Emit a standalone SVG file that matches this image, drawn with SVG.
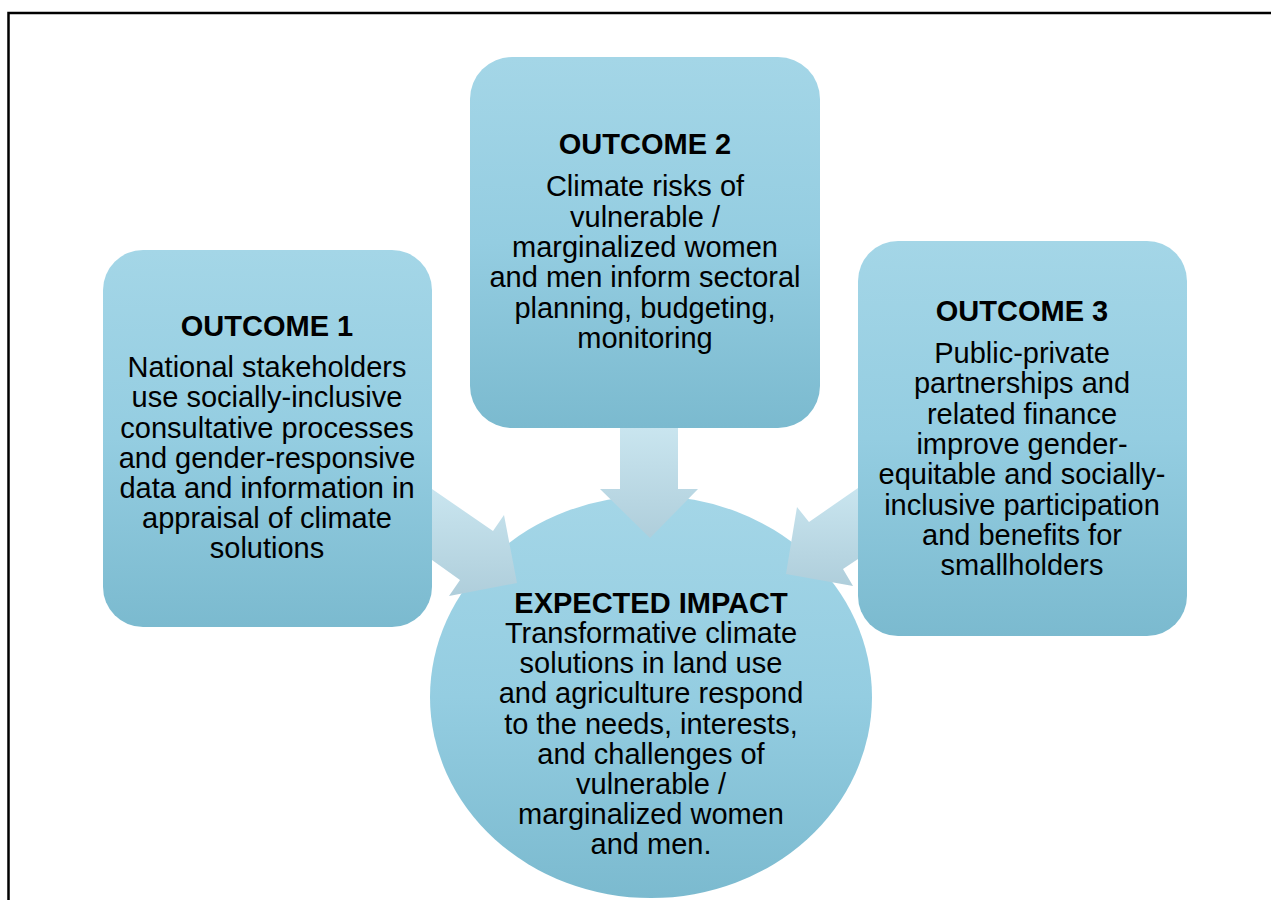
<svg xmlns="http://www.w3.org/2000/svg" width="1271" height="900" viewBox="0 0 1271 900">
<defs>
<linearGradient id="gBox" x1="0" y1="0" x2="0" y2="1">
<stop offset="0" stop-color="#a4d6e7"/>
<stop offset="0.5" stop-color="#94cde1"/>
<stop offset="1" stop-color="#7bbacf"/>
</linearGradient>
<linearGradient id="gArr" x1="0" y1="0" x2="0" y2="1">
<stop offset="0" stop-color="#c9e5ef"/>
<stop offset="1" stop-color="#afcedb"/>
</linearGradient>
<style>
.box{fill:url(#gBox);}
.arr{fill:url(#gArr);}
text{font-family:"Liberation Sans",Arial,sans-serif;font-size:29px;fill:#000;text-anchor:middle;}
.h{font-weight:bold;}
</style>
</defs>
<rect width="1271" height="900" fill="#fff"/>
<path d="M8.5 900 V13 H1271" fill="none" stroke="#000" stroke-width="2.5"/>
<g id="impact">
<ellipse cx="651" cy="697" rx="221" ry="201" class="box"/>
</g>
<g id="connectors">
<polygon class="arr" points="620,428 678,428 678,489 698,489 650,538 600,489 620,489"/>
<polygon class="arr" points="432,489 493,531 504,515 517,583 449,596 460,580 432,560"/>
<polygon class="arr" points="858,488 809,522 797,507 786,574 853,586 843,569 858,559"/>
</g>
<g id="outcome1">
<rect x="103" y="250" width="329" height="377" rx="40" class="box"/>
<text x="267" y="336" class="h">OUTCOME 1</text>
<text x="267" y="377">National stakeholders</text>
<text x="267" y="407">use socially-inclusive</text>
<text x="267" y="438">consultative processes</text>
<text x="267" y="468">and gender-responsive</text>
<text x="267" y="498">data and information in</text>
<text x="267" y="528">appraisal of climate</text>
<text x="267" y="558">solutions</text>
</g>
<g id="outcome2">
<rect x="470" y="57" width="350" height="371" rx="42" class="box"/>
<text x="645" y="154" class="h">OUTCOME 2</text>
<text x="645" y="196">Climate risks of</text>
<text x="645" y="227">vulnerable /</text>
<text x="645" y="257">marginalized women</text>
<text x="645" y="287">and men inform sectoral</text>
<text x="645" y="318">planning, budgeting,</text>
<text x="645" y="348">monitoring</text>
</g>
<g id="outcome3">
<rect x="858" y="241" width="329" height="395" rx="40" class="box"/>
<text x="1022" y="321" class="h">OUTCOME 3</text>
<text x="1022" y="363">Public-private</text>
<text x="1022" y="393">partnerships and</text>
<text x="1022" y="424">related finance</text>
<text x="1022" y="454">improve gender-</text>
<text x="1022" y="484">equitable and socially-</text>
<text x="1022" y="515">inclusive participation</text>
<text x="1022" y="545">and benefits for</text>
<text x="1022" y="575">smallholders</text>
</g>
<g id="impact-text">
<text x="651" y="613" class="h">EXPECTED IMPACT</text>
<text x="651" y="643">Transformative climate</text>
<text x="651" y="673">solutions in land use</text>
<text x="651" y="703">and agriculture respond</text>
<text x="651" y="734">to the needs, interests,</text>
<text x="651" y="764">and challenges of</text>
<text x="651" y="794">vulnerable /</text>
<text x="651" y="824">marginalized women</text>
<text x="651" y="854">and men.</text>
</g>
</svg>
